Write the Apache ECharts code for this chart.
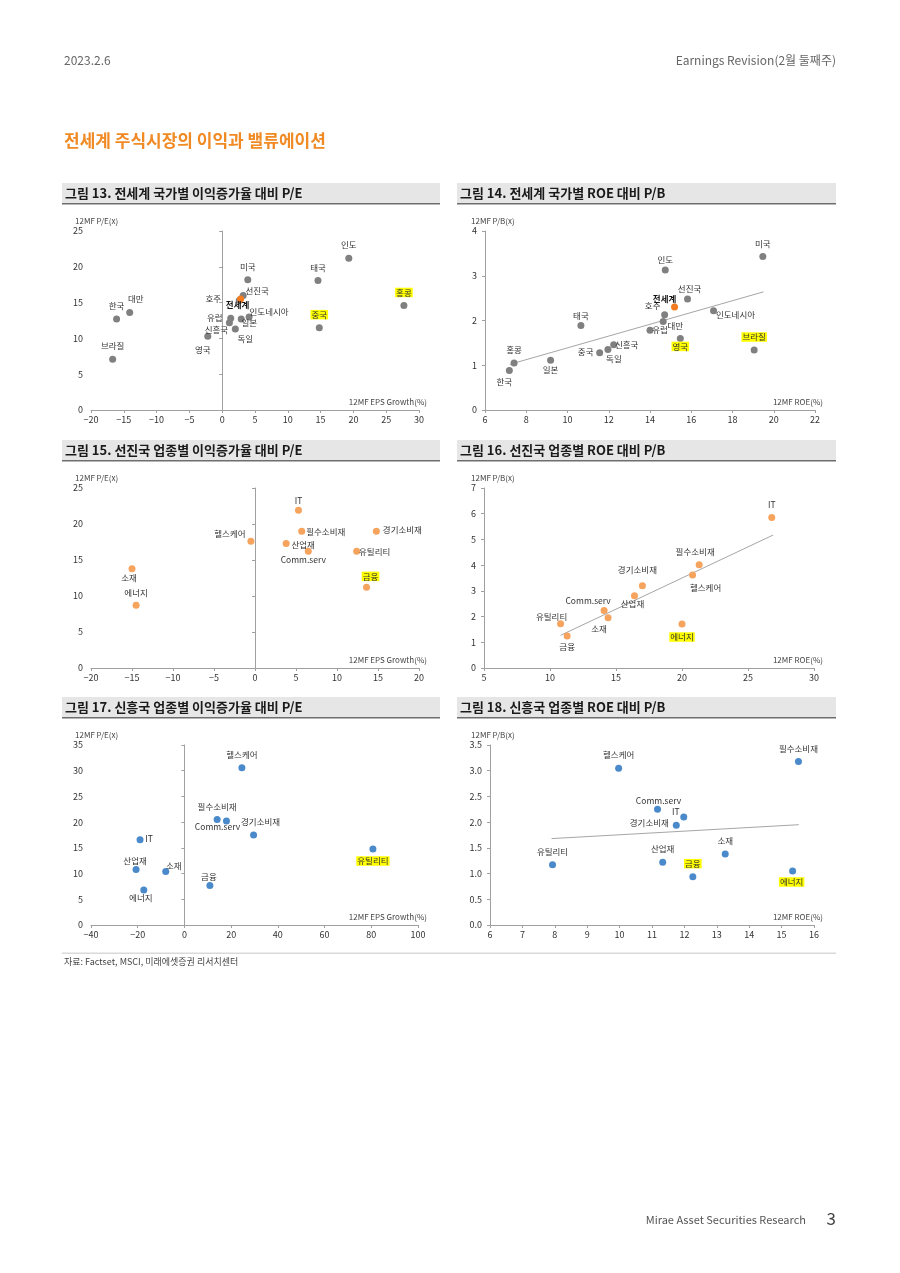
<!DOCTYPE html>
<html><head><meta charset="utf-8">
<script src="https://cdn.jsdelivr.net/npm/echarts@6/dist/echarts.min.js"></script>
<style>html,body{margin:0;padding:0;background:#fff;} #main{width:900px;height:1273px;}</style>
</head><body><div id="main"></div>
<script>
// ---------------- DATA ----------------
// Fig 13: countries, 12MF EPS growth (%) vs 12MF P/E (x)
const c13Names = ['인도','태국','미국','홍콩','중국','선진국','호주','전세계','유럽','인도네시아','일본','신흥국','독일','영국','한국','대만','브라질'];
const c13Eps   = [19.3, 14.6, 3.9, 27.7, 14.8, 3.2, 2.6, 2.8, 1.3, 4.1, 2.9, 1.1, 2.0, -2.2, -16.1, -14.1, -16.7];
const c13Pe    = [21.2, 18.1, 18.2, 14.6, 11.5, 16.0, 15.3, 15.5, 12.8, 13.0, 12.7, 12.2, 11.3, 10.3, 12.7, 13.6, 7.1];
// Fig 14: countries, 12MF ROE (%) vs 12MF P/B (x)
const c14Names = ['미국','인도','선진국','호주','전세계','대만','유럽','인도네시아','영국','브라질','태국','신흥국','독일','중국','일본','홍콩','한국'];
const c14Roe   = [19.47, 14.74, 15.82, 14.71, 15.19, 14.64, 14.0, 17.08, 15.47, 19.05, 10.65, 12.24, 11.96, 11.56, 9.18, 7.41, 7.18];
const c14Pb    = [3.43, 3.13, 2.48, 2.13, 2.30, 1.98, 1.78, 2.22, 1.60, 1.34, 1.89, 1.46, 1.35, 1.28, 1.11, 1.05, 0.88];
const c14Trend = [[7.2, 1.02], [19.5, 2.64]];
// Fig 15: DM sectors
const c15Names = ['IT','필수소비재','경기소비재','헬스케어','산업재','Comm.serv','유틸리티','금융','소재','에너지'];
const c15Eps   = [5.3, 5.7, 14.8, -0.5, 3.8, 6.5, 12.4, 13.6, -15.0, -14.5];
const c15Pe    = [21.9, 19.0, 19.0, 17.6, 17.3, 16.2, 16.2, 11.2, 13.8, 8.7];
// Fig 16: DM sectors ROE vs P/B
const c16Names = ['IT','필수소비재','헬스케어','경기소비재','산업재','Comm.serv','소재','유틸리티','금융','에너지'];
const c16Roe   = [26.8, 21.3, 20.8, 17.0, 16.4, 14.1, 14.4, 10.8, 11.3, 20.0];
const c16Pb    = [5.85, 4.02, 3.62, 3.20, 2.81, 2.24, 1.95, 1.72, 1.24, 1.71];
const c16Trend = [[10.8, 1.27], [26.9, 5.17]];
// Fig 17: EM sectors
const c17Names = ['헬스케어','필수소비재','Comm.serv','경기소비재','유틸리티','IT','산업재','소재','에너지','금융'];
const c17Eps   = [24.6, 14.0, 18.0, 29.6, 80.7, -19.0, -20.7, -8.0, -17.4, 10.9];
const c17Pe    = [30.6, 20.5, 20.2, 17.5, 14.8, 16.6, 10.8, 10.4, 6.8, 7.7];
// Fig 18: EM sectors ROE vs P/B
const c18Names = ['헬스케어','필수소비재','Comm.serv','IT','경기소비재','소재','유틸리티','산업재','금융','에너지'];
const c18Roe   = [9.97, 15.52, 11.17, 11.98, 11.75, 13.26, 7.93, 11.33, 12.26, 15.34];
const c18Pb    = [3.05, 3.18, 2.25, 2.10, 1.94, 1.38, 1.17, 1.22, 0.94, 1.05];
const c18Trend = [[7.9, 1.68], [15.53, 1.95]];
// axis ranges [min, max, interval]
const c13X = [-20, 30, 5],  c13Y = [0, 25, 5];
const c14X = [6, 22, 2],    c14Y = [0, 4, 1];
const c15X = [-20, 20, 5],  c15Y = [0, 25, 5];
const c16X = [5, 30, 5],    c16Y = [0, 7, 1];
const c17X = [-40, 100, 20],c17Y = [0, 35, 5];
const c18X = [6, 16, 1],    c18Y = [0, 3.5, 0.5];

// ---------------- LABEL PLACEMENT (style) ----------------
const off13 = {'인도':[0,-13],'태국':[0,-13],'미국':[0,-13],'홍콩':[0,-13],'중국':[0,-13],'선진국':[14,-5],'전세계':[-3,6],'호주':[-26,-2],
  '유럽':[-16,-1],'인도네시아':[20,-5],'일본':[8,4],'신흥국':[-13,7],'독일':[10,10],'영국':[-5,14],'한국':[0,-13],'대만':[6,-14],'브라질':[0,-13]};
const off14 = {'미국':[0,-13],'인도':[0,-10],'선진국':[2,-10],'전세계':[-10,-8],'호주':[-12,-9],'대만':[12,4],'유럽':[10,-1],'인도네시아':[22,4],
  '영국':[0,8],'브라질':[0,-13],'태국':[0,-10],'신흥국':[13,0],'독일':[6,9],'중국':[-14,-1],'일본':[0,9],'홍콩':[0,-13],'한국':[-5,11]};
const off15 = {'IT':[0,-10],'필수소비재':[24,1],'경기소비재':[26,-1],'헬스케어':[-21,-8],'산업재':[17,1],'Comm.serv':[-5,8],'유틸리티':[18,0],'금융':[4,-11],'소재':[-3,9],'에너지':[0,-13]};
const off16 = {'IT':[0,-13],'필수소비재':[-4,-13],'헬스케어':[13,13],'경기소비재':[-5,-16],'산업재':[-2,8],'Comm.serv':[-16,-10],'소재':[-9,11],'유틸리티':[-9,-7],'금융':[0,11],'에너지':[0,13]};
const off17 = {'헬스케어':[0,-13],'필수소비재':[0,-13],'Comm.serv':[-9,6],'경기소비재':[7,-13],'유틸리티':[0,12],'IT':[9,-1],'산업재':[-1,-9],'소재':[8,-6],'에너지':[-3,8],'금융':[-1,-9]};
const off18 = {'헬스케어':[0,-13],'필수소비재':[0,-13],'Comm.serv':[1,-9],'IT':[-8,-5],'경기소비재':[-27,-2],'소재':[0,-13],'유틸리티':[0,-13],'산업재':[0,-13],'금융':[0,-13],'에너지':[-1,11]};
const hi13 = ['홍콩','중국'], hi14 = ['영국','브라질'], hi15 = ['금융'], hi16 = ['에너지'], hi17 = ['유틸리티'], hi18 = ['금융','에너지'];

const FONT = '"Noto Sans CJK KR", "Noto Sans", sans-serif';
const GRAY = '#808080', ORANGE_W = '#F47B20', ORANGE = '#F6A35E', BLUE = '#4A8ACB';
const AXIS = '#A0A0A0', TXT = '#333';

// layout: grid boxes
const L = [
  {left:91, top:231, width:328, height:179},
  {left:485, top:231, width:330, height:179},
  {left:91, top:488, width:328, height:180},
  {left:484, top:488, width:330, height:180},
  {left:91, top:745, width:327, height:180},
  {left:490, top:745, width:324, height:180}
];
const titles = ['그림 13. 전세계 국가별 이익증가율 대비 P/E','그림 14. 전세계 국가별 ROE 대비 P/B',
  '그림 15. 선진국 업종별 이익증가율 대비 P/E','그림 16. 선진국 업종별 ROE 대비 P/B',
  '그림 17. 신흥국 업종별 이익증가율 대비 P/E','그림 18. 신흥국 업종별 ROE 대비 P/B'];
const yNames = ['12MF P/E(x)','12MF P/B(x)','12MF P/E(x)','12MF P/B(x)','12MF P/E(x)','12MF P/B(x)'];
const xNames = ['12MF EPS Growth(%)','12MF ROE(%)','12MF EPS Growth(%)','12MF ROE(%)','12MF EPS Growth(%)','12MF ROE(%)'];

function items(names, xs, ys, off, hi, color) {
  return names.map((n, i) => {
    const it = {name: n, value: [xs[i], ys[i]], label: {offset: off[n] || [0,-12]}};
    if (hi.includes(n)) { it.label.backgroundColor = '#FFFF00'; it.label.padding = [1,1,0,1]; }
    if (n === '전세계') { it.label.fontWeight = 'bold'; it.label.color = '#111'; it.itemStyle = {color: ORANGE_W}; }
    return it;
  });
}
const fmtNum = (dec) => (v) => {
  const s = dec ? v.toFixed(dec) : String(Math.round(v*100)/100);
  return v < 0 ? '\u2212' + s.replace('-', '') : s;
};

const xRanges = [c13X, c14X, c15X, c16X, c17X, c18X];
const yRanges = [c13Y, c14Y, c15Y, c16Y, c17Y, c18Y];
const yDec = [0,0,0,0,0,1];
const zeroLine = [true,false,true,false,true,false];

const grids = L.map(g => ({left:g.left, top:g.top, width:g.width, height:g.height, outerBoundsMode:'none', containLabel:false}));
const xAxes = xRanges.map((r, i) => ({
  gridIndex:i, type:'value', min:r[0], max:r[1], interval:r[2],
  axisLine:{show:true, onZero:false, lineStyle:{color:AXIS, width:1}},
  axisTick:{show:true, length:3, lineStyle:{color:AXIS}},
  axisLabel:{color:TXT, fontSize:9, fontFamily:FONT, margin:5, formatter: fmtNum(0)},
  splitLine:{show:false}
}));
const yAxes = [];
const yIndexOf = [];
yRanges.forEach((r, i) => {
  yIndexOf.push(yAxes.length);
  yAxes.push({
    gridIndex:i, type:'value', min:r[0], max:r[1], interval:r[2], position:'left',
    axisLine:{show:!zeroLine[i], onZero:false, lineStyle:{color:AXIS, width:1}},
    axisTick:{show:!zeroLine[i], length:3, lineStyle:{color:AXIS}},
    axisLabel:{color:TXT, fontSize:9, fontFamily:FONT, margin:8, formatter: fmtNum(yDec[i])},
    splitLine:{show:false}
  });
  if (zeroLine[i]) {
    yAxes.push({
      gridIndex:i, type:'value', min:r[0], max:r[1], interval:r[2], position:'left',
      axisLine:{show:true, onZero:true, lineStyle:{color:AXIS, width:1}},
      axisTick:{show:true, length:3, lineStyle:{color:AXIS}},
      axisLabel:{show:false}, splitLine:{show:false}
    });
  }
});

const labelBase = {show:true, position:'inside', formatter:'{b}', fontSize:8.5, fontFamily:FONT, color:TXT, align:'center', verticalAlign:'middle'};
function scatter(i, data, color) {
  return {type:'scatter', xAxisIndex:i, yAxisIndex:yIndexOf[i], data:data, symbolSize:7, z:3,
    itemStyle:{color:color, opacity:1}, label:labelBase, emphasis:{disabled:true}, silent:true, animation:false};
}
function trend(i, data) {
  return {type:'line', xAxisIndex:i, yAxisIndex:yIndexOf[i], data:data, symbol:'none', z:2,
    lineStyle:{color:'#A6A6A6', width:1}, silent:true, animation:false};
}
const series = [
  scatter(0, items(c13Names, c13Eps, c13Pe, off13, hi13), GRAY),
  trend(1, c14Trend),
  scatter(1, items(c14Names, c14Roe, c14Pb, off14, hi14), GRAY),
  scatter(2, items(c15Names, c15Eps, c15Pe, off15, hi15), ORANGE),
  trend(3, c16Trend),
  scatter(3, items(c16Names, c16Roe, c16Pb, off16, hi16), ORANGE),
  scatter(4, items(c17Names, c17Eps, c17Pe, off17, hi17), BLUE),
  trend(5, c18Trend),
  scatter(5, items(c18Names, c18Roe, c18Pb, off18, hi18), BLUE)
];

// graphic: page texts, title bars, axis names
const g = [];
function txt(x, y, text, size, color, align, weight) {
  g.push({type:'text', x:x, y:y, silent:true, z:10, style:{text:text, fill:color, font:(weight||'normal')+' '+size+'px '+FONT, textAlign:align||'left', textVerticalAlign:'middle'}});
}
txt(64, 60, '2023.2.6', 12, '#666');
txt(836, 60, 'Earnings Revision(2월 둘째주)', 12, '#666', 'right');
txt(64, 141, '전세계 주식시장의 이익과 밸류에이션', 17, '#F08A24', 'left', 'bold');
L.forEach((b, i) => {
  const col = i % 2, row = Math.floor(i / 2);
  const bx = col ? 457 : 62, bw = col ? 379 : 378, by = 183 + row * 257;
  g.push({type:'rect', silent:true, z:1, shape:{x:bx, y:by, width:bw, height:20}, style:{fill:'#E6E6E6'}});
  g.push({type:'rect', silent:true, z:2, shape:{x:bx, y:by+20, width:bw, height:1.5}, style:{fill:'#6E6E6E'}});
  txt(bx + 3, by + 10.5, titles[i], 13, '#1a1a1a', 'left', 'bold');
  txt(col ? 471 : 75, b.top - 10, yNames[i], 8, '#444');
  txt(col ? 823 : 427, b.top + b.height - 8, xNames[i], 8, '#444', 'right');
});
g.push({type:'rect', silent:true, shape:{x:62, y:952.5, width:774, height:1.5}, style:{fill:'#D9D9D9'}});
txt(64, 962, '자료: Factset, MSCI, 미래에셋증권 리서치센터', 9, '#444');
txt(806, 1220, 'Mirae Asset Securities Research', 11, '#555', 'right');
txt(836, 1219, '3', 17, '#444', 'right');

const chart = echarts.init(document.getElementById('main'), null, {renderer:'canvas'});
chart.setOption({
  animation:false, backgroundColor:'#fff',
  grid:grids, xAxis:xAxes, yAxis:yAxes, series:series, graphic:g
});
</script></body></html>
